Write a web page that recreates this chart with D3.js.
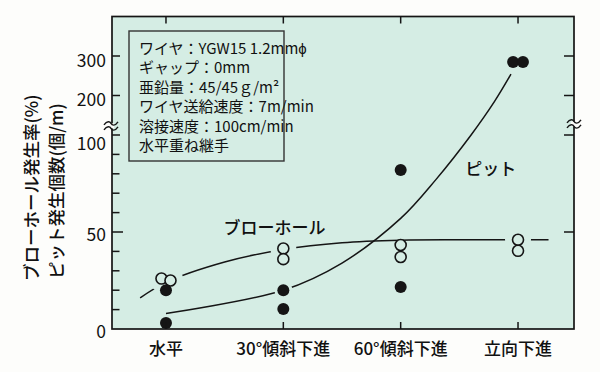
<!DOCTYPE html>
<html><head><meta charset="utf-8">
<script src="https://cdn.jsdelivr.net/npm/d3@7"></script>
<style>
html,body{margin:0;padding:0;background:#fdfdfb;}
svg{display:block;}
text{font-family:"Liberation Sans Narrow","Noto Sans CJK JP",sans-serif;fill:#111;}
.cjk{font-family:"Noto Sans CJK JP",sans-serif;font-weight:500;}
</style></head>
<body>
<svg id="chart" width="600" height="372"></svg>
<script>
// ---- data ----
const categories = ["水平", "30°傾斜下進", "60°傾斜下進", "立向下進"];
// ブローホール発生率 (%) : open circles
const blowholeValues = [[26, 25], [41.5, 36], [43.3, 37.1], [46, 40.3]];
// ピット発生個数 (個/m) : filled circles
const pitValues = [[20, 3.1], [20, 10.3], [82, 21.6], [285, 285]];
// fitted curves (category index t, value)
const blowholeCurveT = [-0.22, 0, 0.5, 1, 1.5, 2, 2.5, 3, 3.26];
const blowholeCurveV = [16, 24, 34.5, 41, 44.5, 45.8, 46, 46, 46];
const pitCurveT = [0, 1, 1.5, 2, 2.3, 2.6, 2.8, 2.94];
const pitCurveV = [8, 20, 34, 57, 77, 100, 185, 254];
// categories where the curve is interrupted around the markers
const blowholeGaps = ["水平", "30°傾斜下進", "立向下進"];
const pitGaps = ["30°傾斜下進"];
// axes
const leftMajorTicks = [0, 50, 100, 200, 300];
const leftMinorTicks = [10, 20, 30, 40, 60, 70, 80, 90];
const rightTicks = [50, 100, 200, 300];
const yDomain = [0, 100, 400];
const breakValue = 123;
const legendLines = ["ワイヤ：YGW15 1.2mmϕ", "ギャップ：0mm", "亜鉛量：45/45ｇ/m²", "ワイヤ送給速度：7m/min", "溶接速度：100cm/min", "水平重ね継手"];
const yTitle1 = "ブローホール発生率(%)";
const yTitle2 = "ピット発生個数(個/m)";
const blowholeLabel = "ブローホール";
const pitLabel = "ピット";

// ---- layout ----
const W = 600, H = 372;
const frame = {left: 112, right: 574, top: 16.5, bottom: 329};
const bg = "#d5ede4";
const ink = "#151515";

const svg = d3.select("#chart");
const x = d3.scalePoint().domain(categories).range([frame.left, frame.right - 2]).padding(0.46);
const y = d3.scaleLinear().domain(yDomain).range([frame.bottom, 135, frame.top]);
const xT = d3.scaleLinear().domain([0, categories.length - 1]).range([x(categories[0]), x(categories[categories.length - 1])]);

// plot background
svg.append("rect").attr("x", frame.left).attr("y", frame.top)
  .attr("width", frame.right - frame.left).attr("height", frame.bottom - frame.top)
  .attr("fill", bg);

// legend box
const lg = svg.append("g");
lg.append("rect").attr("x", frame.left + 17).attr("y", frame.top + 14.5)
  .attr("width", 155).attr("height", 130)
  .attr("fill", "none").attr("stroke", "#333").attr("stroke-width", 1.4);
lg.selectAll("text").data(legendLines).join("text")
  .attr("x", frame.left + 27).attr("y", (d, i) => frame.top + 37 + i * 19.5)
  .attr("font-size", 15).text(d => d);

// ---- points with collision offset ----
const rOpen = 5.5, rFill = 6;
function buildPoints(vals, r) {
  const pts = [];
  vals.forEach((arr, ci) => {
    const cat = categories[ci];
    const ys = arr.map(v => y(v));
    arr.forEach((v, i) => {
      let dx = 0;
      if (arr.length === 2 && Math.abs(ys[0] - ys[1]) < r) dx = (i === 0 ? -1 : 1) * r * 0.82;
      pts.push({cat, v, cx: x(cat) + dx, cy: y(v)});
    });
  });
  return pts;
}
const openPts = buildPoints(blowholeValues, rOpen);
const fillPts = buildPoints(pitValues, rFill);

// masks to interrupt curves near markers
const defs = svg.append("defs");
function makeMask(id, pts, gaps, R) {
  const m = defs.append("mask").attr("id", id).attr("maskUnits", "userSpaceOnUse")
    .attr("x", 0).attr("y", 0).attr("width", W).attr("height", H);
  m.append("rect").attr("width", W).attr("height", H).attr("fill", "white");
  m.selectAll("circle").data(pts.filter(p => gaps.includes(p.cat))).join("circle")
    .attr("cx", d => d.cx).attr("cy", d => d.cy).attr("r", R).attr("fill", "black");
}
makeMask("mBlow", openPts, blowholeGaps, 13);
makeMask("mPit", fillPts, pitGaps, 9);

const line = d3.line().x(d => xT(d[0])).y(d => y(d[1])).curve(d3.curveCatmullRom.alpha(0.5));
svg.append("path").datum(blowholeCurveT.map((t, i) => [t, blowholeCurveV[i]]))
  .attr("d", line).attr("fill", "none").attr("stroke", ink).attr("stroke-width", 1.5)
  .attr("mask", "url(#mBlow)");
svg.append("path").datum(pitCurveT.map((t, i) => [t, pitCurveV[i]]))
  .attr("d", line).attr("fill", "none").attr("stroke", ink).attr("stroke-width", 1.5)
  .attr("mask", "url(#mPit)");

// markers
svg.append("g").selectAll("circle").data(openPts).join("circle")
  .attr("cx", d => d.cx).attr("cy", d => d.cy).attr("r", rOpen)
  .attr("fill", bg).attr("stroke", ink).attr("stroke-width", 1.6);
svg.append("g").selectAll("circle").data(fillPts).join("circle")
  .attr("cx", d => d.cx).attr("cy", d => d.cy).attr("r", rFill)
  .attr("fill", ink);

// curve labels
svg.append("text").attr("class", "cjk").attr("x", xT(0.49)).attr("y", y(53))
  .attr("dominant-baseline", "central").attr("font-size", 17).text(blowholeLabel);
svg.append("text").attr("class", "cjk").attr("x", xT(2.55)).attr("y", y(83))
  .attr("dominant-baseline", "central").attr("font-size", 17).text(pitLabel);

// frame
svg.append("rect").attr("x", frame.left).attr("y", frame.top)
  .attr("width", frame.right - frame.left).attr("height", frame.bottom - frame.top)
  .attr("fill", "none").attr("stroke", ink).attr("stroke-width", 1.7);

// left axis ticks
const tk = svg.append("g").attr("stroke", ink).attr("stroke-width", 1.5);
tk.selectAll(".maj").data(leftMajorTicks.filter(v => v > 0)).join("line")
  .attr("x1", frame.left).attr("x2", d => frame.left + (d === 50 ? 11 : 8))
  .attr("y1", d => y(d)).attr("y2", d => y(d));
tk.selectAll(".min").data(leftMinorTicks).join("line").attr("class", "min")
  .attr("x1", frame.left).attr("x2", frame.left + 7.5)
  .attr("y1", d => y(d)).attr("y2", d => y(d));
// right axis ticks
tk.selectAll(".rt").data(rightTicks).join("line").attr("class", "rt")
  .attr("x1", frame.right).attr("x2", frame.right - 10)
  .attr("y1", d => y(d)).attr("y2", d => y(d));
// top and bottom category ticks
tk.selectAll(".tt").data(categories).join("line").attr("class", "tt")
  .attr("x1", d => x(d)).attr("x2", d => x(d))
  .attr("y1", frame.top).attr("y2", frame.top + 7);
tk.selectAll(".bt").data(categories).join("line").attr("class", "bt")
  .attr("x1", d => x(d)).attr("x2", d => x(d))
  .attr("y1", frame.bottom).attr("y2", frame.bottom - 7);

// break symbols
function drawBreak(cx, cy) {
  const g = svg.append("g");
  g.append("rect").attr("x", cx - 3).attr("y", cy - 2.5).attr("width", 6).attr("height", 5).attr("fill", "#fdfdfb");
  const wave = (yy) => `M${cx - 7},${yy + 1.5} C${cx - 4},${yy - 3} ${cx - 1},${yy - 2} ${cx},${yy} S${cx + 4},${yy + 3} ${cx + 7},${yy - 1.5}`;
  g.append("path").attr("d", wave(cy - 2.5)).attr("fill", "none").attr("stroke", ink).attr("stroke-width", 1.4);
  g.append("path").attr("d", wave(cy + 2.5)).attr("fill", "none").attr("stroke", ink).attr("stroke-width", 1.4);
}
drawBreak(frame.left - 1, y(breakValue));
drawBreak(frame.right, y(breakValue) - 2);

// y tick labels
svg.append("g").selectAll("text").data(leftMajorTicks).join("text")
  .attr("x", frame.left - 6).attr("y", d => y(d) + (d === 100 ? 7 : (d > 100 ? 3 : 1)))
  .attr("text-anchor", "end").attr("dominant-baseline", "central")
  .attr("font-size", 17.5).text(d => d);

// x labels
svg.append("g").selectAll("text").data(categories).join("text")
  .attr("class", "cjk").attr("x", d => x(d)).attr("y", 355)
  .attr("text-anchor", "middle").attr("font-size", 17).text(d => d);

// y titles
svg.append("text").attr("class", "cjk").attr("transform", "translate(38,281) rotate(-90)")
  .attr("font-size", 17.5).text(yTitle1);
svg.append("text").attr("class", "cjk").attr("transform", "translate(63,279) rotate(-90)")
  .attr("font-size", 17.5).text(yTitle2);
</script>
</body></html>
